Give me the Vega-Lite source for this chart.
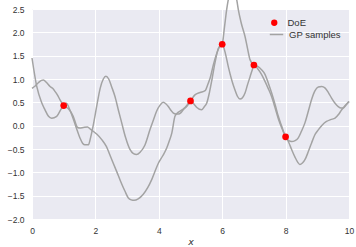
{
  "$schema": "https://vega.github.io/schema/vega-lite/v6.json",
  "width": 317,
  "height": 210,
  "autosize": "none",
  "padding": {"left": 32, "top": 9, "right": 7, "bottom": 28},
  "background": "white",
  "config": {
    "view": {"fill": "#EAEAF2", "stroke": null},
    "font": "Liberation Sans",
    "axis": {
      "domain": false,
      "ticks": false,
      "grid": true,
      "gridColor": "white",
      "gridWidth": 1,
      "labelFont": "Liberation Sans",
      "labelFontSize": 8.5,
      "labelColor": "#333333",
      "labelFlush": false,
      "labelOverlap": false
    },
    "legend": {
      "labelFont": "Liberation Sans",
      "labelFontSize": 9.5,
      "labelColor": "#333333",
      "padding": 0
    }
  },
  "resolve": {"legend": {"color": "independent", "stroke": "independent"}},
  "datasets": {
    "gp": [
      {"s": "A", "x": 0, "y": 1.45},
      {"s": "A", "x": 0.15, "y": 0.84},
      {"s": "A", "x": 0.3, "y": 0.5},
      {"s": "A", "x": 0.41, "y": 0.34},
      {"s": "A", "x": 0.52, "y": 0.2},
      {"s": "A", "x": 0.62, "y": 0.16},
      {"s": "A", "x": 0.78, "y": 0.2},
      {"s": "A", "x": 0.94, "y": 0.38},
      {"s": "A", "x": 1.0, "y": 0.43},
      {"s": "A", "x": 1.08, "y": 0.48},
      {"s": "A", "x": 1.2, "y": 0.33},
      {"s": "A", "x": 1.3, "y": 0.15},
      {"s": "A", "x": 1.4, "y": -0.05},
      {"s": "A", "x": 1.51, "y": -0.26},
      {"s": "A", "x": 1.6, "y": -0.38},
      {"s": "A", "x": 1.67, "y": -0.41},
      {"s": "A", "x": 1.78, "y": -0.41},
      {"s": "A", "x": 1.85, "y": -0.25},
      {"s": "A", "x": 1.93, "y": 0.0},
      {"s": "A", "x": 2.05, "y": 0.45},
      {"s": "A", "x": 2.15, "y": 0.8},
      {"s": "A", "x": 2.25, "y": 1.0},
      {"s": "A", "x": 2.33, "y": 1.06},
      {"s": "A", "x": 2.42, "y": 1.0},
      {"s": "A", "x": 2.52, "y": 0.82},
      {"s": "A", "x": 2.62, "y": 0.62},
      {"s": "A", "x": 2.73, "y": 0.32},
      {"s": "A", "x": 2.83, "y": 0.06},
      {"s": "A", "x": 2.95, "y": -0.25},
      {"s": "A", "x": 3.09, "y": -0.51},
      {"s": "A", "x": 3.2, "y": -0.6},
      {"s": "A", "x": 3.3, "y": -0.62},
      {"s": "A", "x": 3.41, "y": -0.57},
      {"s": "A", "x": 3.56, "y": -0.42},
      {"s": "A", "x": 3.72, "y": -0.09},
      {"s": "A", "x": 3.83, "y": 0.12},
      {"s": "A", "x": 3.93, "y": 0.31},
      {"s": "A", "x": 4.04, "y": 0.44},
      {"s": "A", "x": 4.14, "y": 0.5},
      {"s": "A", "x": 4.22, "y": 0.47},
      {"s": "A", "x": 4.3, "y": 0.41},
      {"s": "A", "x": 4.38, "y": 0.33},
      {"s": "A", "x": 4.46, "y": 0.27},
      {"s": "A", "x": 4.54, "y": 0.25},
      {"s": "A", "x": 4.62, "y": 0.25},
      {"s": "A", "x": 4.7, "y": 0.28},
      {"s": "A", "x": 4.77, "y": 0.34},
      {"s": "A", "x": 4.88, "y": 0.43},
      {"s": "A", "x": 5.0, "y": 0.53},
      {"s": "A", "x": 5.1, "y": 0.47},
      {"s": "A", "x": 5.2, "y": 0.39},
      {"s": "A", "x": 5.35, "y": 0.34},
      {"s": "A", "x": 5.45, "y": 0.42},
      {"s": "A", "x": 5.51, "y": 0.48},
      {"s": "A", "x": 5.6, "y": 0.72},
      {"s": "A", "x": 5.68, "y": 1.0},
      {"s": "A", "x": 5.77, "y": 1.34},
      {"s": "A", "x": 5.88, "y": 1.66},
      {"s": "A", "x": 6.0, "y": 1.745},
      {"s": "A", "x": 6.07, "y": 2.1},
      {"s": "A", "x": 6.14, "y": 2.48},
      {"s": "A", "x": 6.19, "y": 2.69},
      {"s": "A", "x": 6.25, "y": 2.83},
      {"s": "A", "x": 6.32, "y": 2.88},
      {"s": "A", "x": 6.39, "y": 2.83},
      {"s": "A", "x": 6.46, "y": 2.69},
      {"s": "A", "x": 6.51, "y": 2.48},
      {"s": "A", "x": 6.6, "y": 2.2},
      {"s": "A", "x": 6.72, "y": 1.91},
      {"s": "A", "x": 6.8, "y": 1.65},
      {"s": "A", "x": 6.88, "y": 1.41},
      {"s": "A", "x": 7.0, "y": 1.3},
      {"s": "A", "x": 7.12, "y": 1.27},
      {"s": "A", "x": 7.24, "y": 1.2},
      {"s": "A", "x": 7.35, "y": 1.1},
      {"s": "A", "x": 7.45, "y": 0.92},
      {"s": "A", "x": 7.56, "y": 0.7},
      {"s": "A", "x": 7.67, "y": 0.45},
      {"s": "A", "x": 7.77, "y": 0.2},
      {"s": "A", "x": 7.88, "y": -0.02},
      {"s": "A", "x": 8.0, "y": -0.24},
      {"s": "A", "x": 8.1, "y": -0.32},
      {"s": "A", "x": 8.19, "y": -0.34},
      {"s": "A", "x": 8.3, "y": -0.32},
      {"s": "A", "x": 8.4, "y": -0.26},
      {"s": "A", "x": 8.5, "y": -0.12},
      {"s": "A", "x": 8.61, "y": 0.06},
      {"s": "A", "x": 8.72, "y": 0.32},
      {"s": "A", "x": 8.82, "y": 0.56},
      {"s": "A", "x": 8.92, "y": 0.74},
      {"s": "A", "x": 9.03, "y": 0.83},
      {"s": "A", "x": 9.14, "y": 0.84},
      {"s": "A", "x": 9.24, "y": 0.81},
      {"s": "A", "x": 9.35, "y": 0.71},
      {"s": "A", "x": 9.45, "y": 0.59},
      {"s": "A", "x": 9.56, "y": 0.48},
      {"s": "A", "x": 9.66, "y": 0.41},
      {"s": "A", "x": 9.75, "y": 0.38},
      {"s": "A", "x": 9.82, "y": 0.38},
      {"s": "A", "x": 9.9, "y": 0.44},
      {"s": "A", "x": 10.0, "y": 0.52},
      {"s": "B", "x": 0, "y": 0.8},
      {"s": "B", "x": 0.1, "y": 0.85},
      {"s": "B", "x": 0.2, "y": 0.92},
      {"s": "B", "x": 0.3, "y": 0.97},
      {"s": "B", "x": 0.36, "y": 0.98},
      {"s": "B", "x": 0.45, "y": 0.93},
      {"s": "B", "x": 0.57, "y": 0.84},
      {"s": "B", "x": 0.65, "y": 0.8},
      {"s": "B", "x": 0.73, "y": 0.73},
      {"s": "B", "x": 0.8, "y": 0.66},
      {"s": "B", "x": 0.88, "y": 0.56},
      {"s": "B", "x": 0.95, "y": 0.48},
      {"s": "B", "x": 1.0, "y": 0.43},
      {"s": "B", "x": 1.15, "y": 0.36},
      {"s": "B", "x": 1.3, "y": 0.2},
      {"s": "B", "x": 1.44, "y": -0.04},
      {"s": "B", "x": 1.51, "y": -0.05},
      {"s": "B", "x": 1.62, "y": -0.04},
      {"s": "B", "x": 1.75, "y": -0.03},
      {"s": "B", "x": 1.85, "y": -0.08},
      {"s": "B", "x": 1.95, "y": -0.13},
      {"s": "B", "x": 2.04, "y": -0.18},
      {"s": "B", "x": 2.2, "y": -0.3},
      {"s": "B", "x": 2.34, "y": -0.44},
      {"s": "B", "x": 2.5, "y": -0.7},
      {"s": "B", "x": 2.67, "y": -0.98},
      {"s": "B", "x": 2.8, "y": -1.2},
      {"s": "B", "x": 2.93, "y": -1.4},
      {"s": "B", "x": 3.04, "y": -1.55},
      {"s": "B", "x": 3.13, "y": -1.59},
      {"s": "B", "x": 3.22, "y": -1.6},
      {"s": "B", "x": 3.35, "y": -1.57},
      {"s": "B", "x": 3.51, "y": -1.47},
      {"s": "B", "x": 3.65, "y": -1.33},
      {"s": "B", "x": 3.78, "y": -1.15},
      {"s": "B", "x": 3.99, "y": -0.8},
      {"s": "B", "x": 4.12, "y": -0.65},
      {"s": "B", "x": 4.25, "y": -0.48},
      {"s": "B", "x": 4.33, "y": -0.33},
      {"s": "B", "x": 4.41, "y": -0.16},
      {"s": "B", "x": 4.51, "y": 0.2},
      {"s": "B", "x": 4.6, "y": 0.28},
      {"s": "B", "x": 4.67, "y": 0.31},
      {"s": "B", "x": 4.78, "y": 0.36},
      {"s": "B", "x": 4.88, "y": 0.41},
      {"s": "B", "x": 5.0, "y": 0.53},
      {"s": "B", "x": 5.14, "y": 0.66},
      {"s": "B", "x": 5.3, "y": 0.71},
      {"s": "B", "x": 5.46, "y": 0.75},
      {"s": "B", "x": 5.56, "y": 0.91},
      {"s": "B", "x": 5.62, "y": 1.02},
      {"s": "B", "x": 5.72, "y": 1.3},
      {"s": "B", "x": 5.83, "y": 1.55},
      {"s": "B", "x": 5.92, "y": 1.7},
      {"s": "B", "x": 6.0, "y": 1.745},
      {"s": "B", "x": 6.1, "y": 1.55},
      {"s": "B", "x": 6.19, "y": 1.27},
      {"s": "B", "x": 6.3, "y": 0.98},
      {"s": "B", "x": 6.4, "y": 0.77},
      {"s": "B", "x": 6.48, "y": 0.63},
      {"s": "B", "x": 6.56, "y": 0.57},
      {"s": "B", "x": 6.64, "y": 0.6},
      {"s": "B", "x": 6.72, "y": 0.7},
      {"s": "B", "x": 6.8, "y": 0.88},
      {"s": "B", "x": 6.88, "y": 1.05},
      {"s": "B", "x": 6.95, "y": 1.2},
      {"s": "B", "x": 7.0, "y": 1.3},
      {"s": "B", "x": 7.12, "y": 1.22},
      {"s": "B", "x": 7.24, "y": 1.1},
      {"s": "B", "x": 7.35, "y": 0.95},
      {"s": "B", "x": 7.45, "y": 0.8},
      {"s": "B", "x": 7.56, "y": 0.62},
      {"s": "B", "x": 7.67, "y": 0.38},
      {"s": "B", "x": 7.77, "y": 0.15},
      {"s": "B", "x": 7.88, "y": -0.05},
      {"s": "B", "x": 8.0, "y": -0.24},
      {"s": "B", "x": 8.1, "y": -0.36},
      {"s": "B", "x": 8.19, "y": -0.51},
      {"s": "B", "x": 8.3, "y": -0.68},
      {"s": "B", "x": 8.38, "y": -0.78},
      {"s": "B", "x": 8.45, "y": -0.83},
      {"s": "B", "x": 8.53, "y": -0.8},
      {"s": "B", "x": 8.61, "y": -0.73},
      {"s": "B", "x": 8.72, "y": -0.55},
      {"s": "B", "x": 8.82, "y": -0.37},
      {"s": "B", "x": 8.92, "y": -0.2},
      {"s": "B", "x": 9.03, "y": -0.09},
      {"s": "B", "x": 9.15, "y": 0.01},
      {"s": "B", "x": 9.29, "y": 0.09},
      {"s": "B", "x": 9.42, "y": 0.13},
      {"s": "B", "x": 9.56, "y": 0.16},
      {"s": "B", "x": 9.67, "y": 0.24},
      {"s": "B", "x": 9.77, "y": 0.34},
      {"s": "B", "x": 9.88, "y": 0.43},
      {"s": "B", "x": 10.0, "y": 0.52}
    ],
    "doe": [
      {"x": 1, "y": 0.43},
      {"x": 5, "y": 0.53},
      {"x": 6, "y": 1.745},
      {"x": 7, "y": 1.3},
      {"x": 8, "y": -0.24}
    ]
  },
  "encoding": {
    "x": {"field": "x", "type": "quantitative",
      "scale": {"domain": [0, 10], "nice": false, "zero": false},
      "axis": {"values": [0, 2, 4, 6, 8, 10], "labelPadding": 7, "title": "x", "titleFont": "DejaVu Sans", "titleFontStyle": "italic", "titleFontWeight": "normal", "titleFontSize": 9.5, "titleColor": "#333333", "titlePadding": 2}
    },
    "y": {"field": "y", "type": "quantitative",
      "scale": {"domain": [-2, 2.5], "nice": false, "zero": false},
      "axis": {"values": [-2, -1.5, -1, -0.5, 0, 0.5, 1, 1.5, 2, 2.5], "format": ".1f", "labelPadding": 8, "title": null}
    }
  },
  "layer": [
    {
      "data": {"name": "gp"},
      "mark": {"type": "line", "interpolate": "monotone", "strokeWidth": 1.5, "clip": false},
      "encoding": {
        "detail": {"field": "s"},
        "stroke": {
          "datum": "GP samples", "type": "nominal",
          "scale": {"domain": ["GP samples"], "range": ["#a3a3a3"]},
          "legend": {
            "title": null,
            "orient": "none",
            "legendX": 237,
            "legendY": 18,
            "symbolType": "stroke",
            "symbolSize": 180,
            "symbolStrokeWidth": 1.5,
            "labelOffset": 5
          }
        }
      }
    },
    {
      "data": {"name": "doe"},
      "mark": {"type": "point", "filled": true, "opacity": 1, "size": 45},
      "encoding": {
        "color": {
          "datum": "DoE", "type": "nominal",
          "scale": {"domain": ["DoE"], "range": ["#ff0000"]},
          "legend": {
            "title": null,
            "orient": "none",
            "legendX": 237.5,
            "legendY": 9,
            "symbolType": "circle",
            "symbolSize": 40,
            "labelOffset": 8.5
          }
        }
      }
    }
  ]
}
